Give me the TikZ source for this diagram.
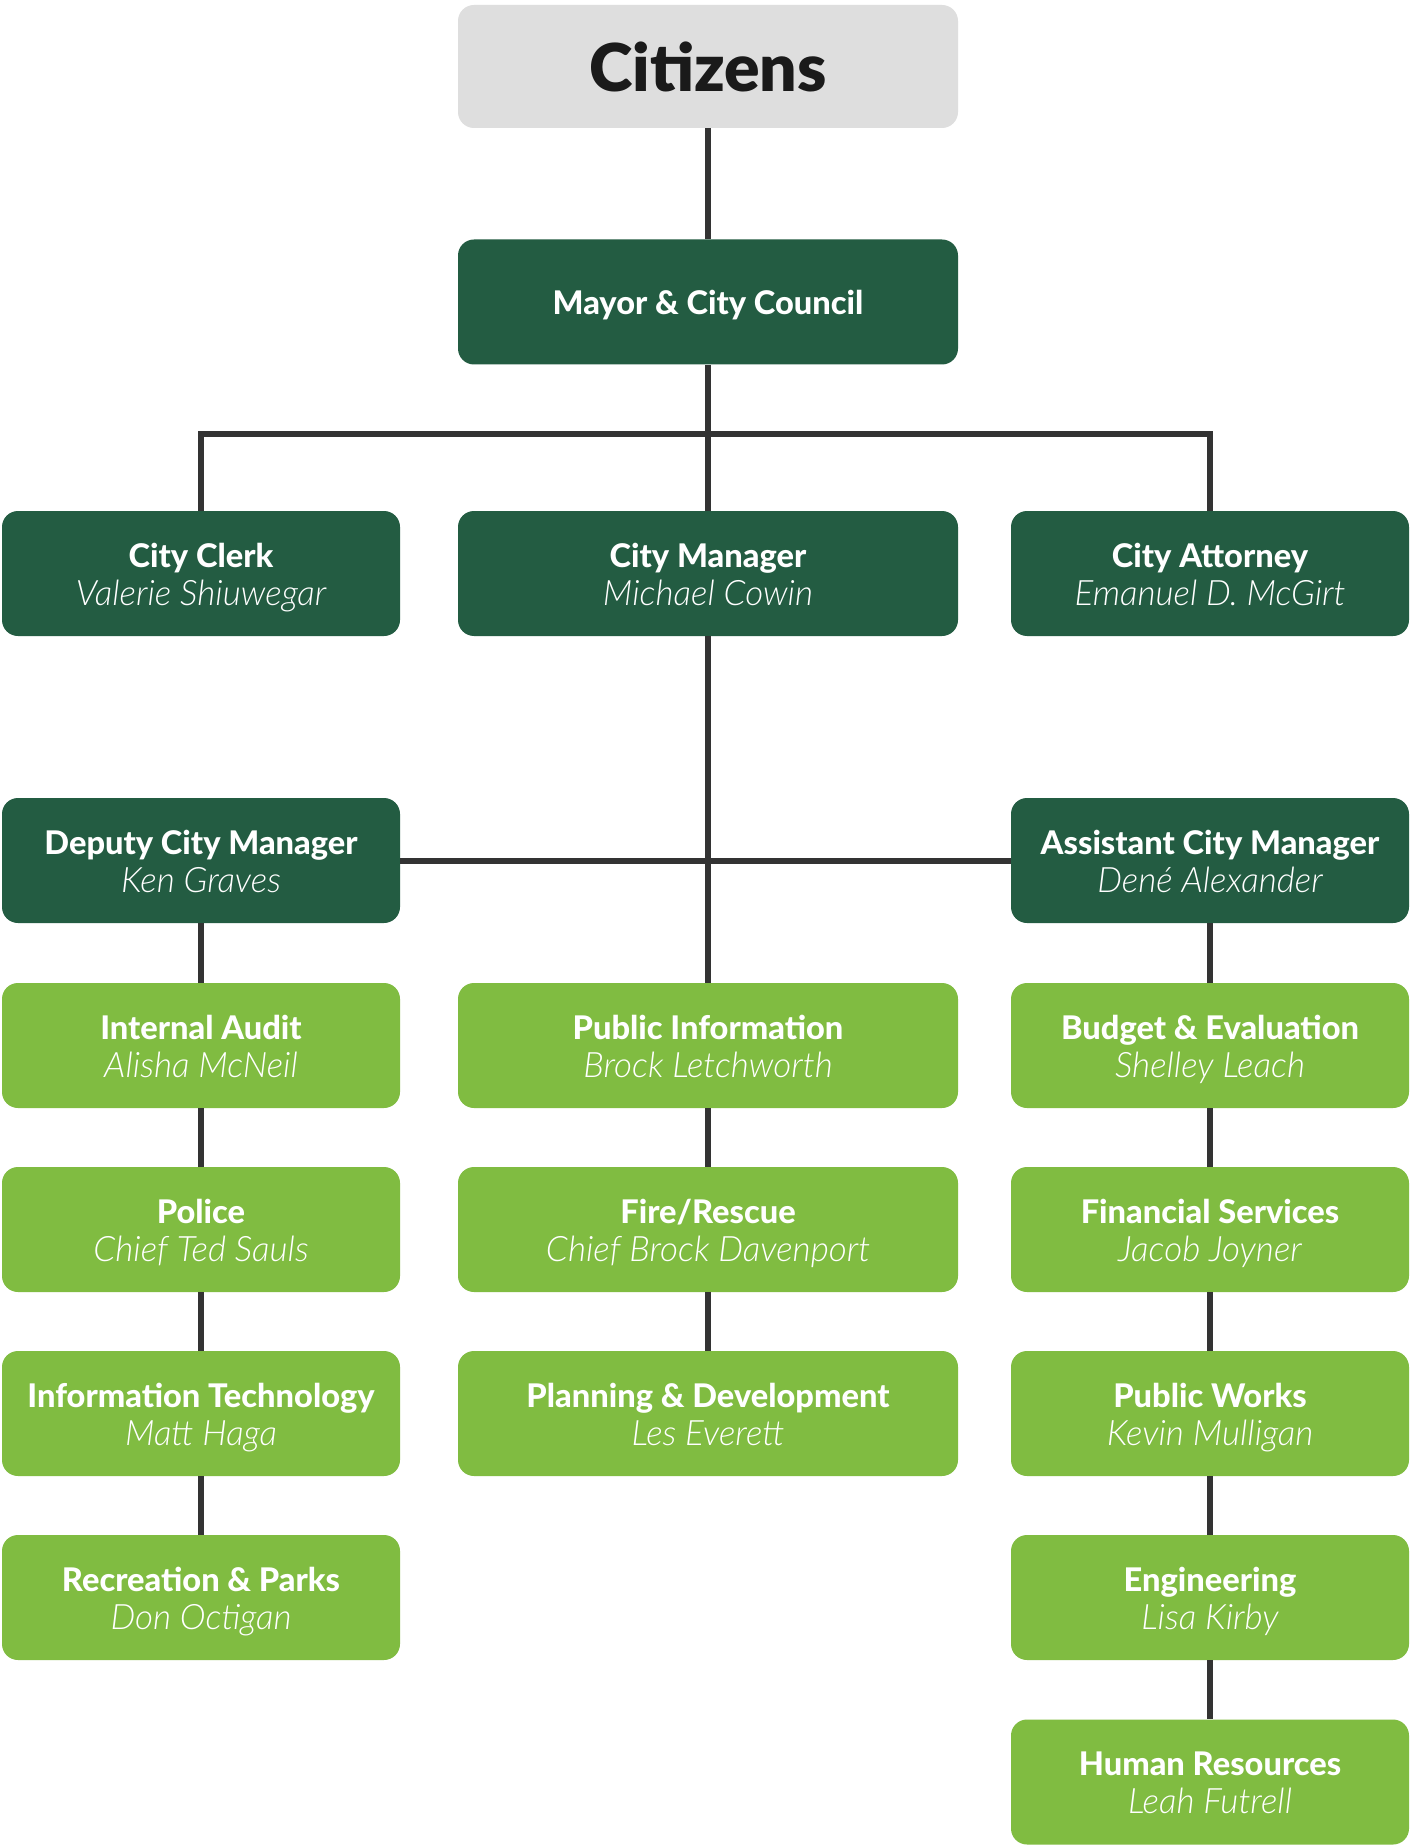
\documentclass[tikz,border=0pt]{standalone}
\usepackage{fontspec}
\setmainfont{Lato}[BoldFont={Lato Heavy}, ItalicFont={Lato Light Italic}]
\newfontfamily\blackfont{Lato Black}
\definecolor{dkgreen}{HTML}{235C42}
\definecolor{ltgreen}{HTML}{80BC41}
\definecolor{citgray}{HTML}{DEDEDE}
\definecolor{linec}{HTML}{333333}
\definecolor{citink}{HTML}{1A1A1A}
\newcommand{\lnstrut}{\rule[-3.2pt]{0pt}{19pt}}
\newcommand{\ttl}[1]{{\fontsize{16.3}{19}\selectfont\bfseries\lnstrut #1}}
\newcommand{\nm}[1]{{\fontsize{17.5}{19}\selectfont\itshape\lnstrut #1}}
\begin{document}
\begin{tikzpicture}[x=0.5pt,y=-0.5pt,
  orgbox/.style={rounded corners=8pt, inner sep=0pt, align=center, text=white,
    minimum height=62.5pt, font=\fontsize{16.3}{19}\selectfont},
  sidebox/.style={orgbox, minimum width=199pt},
  midbox/.style={orgbox, minimum width=250pt},
  dkbox/.style={fill=dkgreen},
  ltbox/.style={fill=ltgreen},
  conn/.style={draw=linec, line width=3pt}]
\useasboundingbox (0,0) rectangle (1409,1845);
\fill[white] (0,0) rectangle (1409,1845);

% top
\node[midbox, fill=citgray, text=citink, minimum height=61.5pt, font=\fontsize{33}{38}\selectfont\blackfont] (cit) at (708,66.5) {Citizens};
\node[midbox, dkbox] (mayor) at (708,302) {\ttl{Mayor \& City Council}};

% row 3
\node[sidebox, dkbox] (clerk) at (201,573.5) {\ttl{City Clerk}\\\nm{Valerie Shiuwegar}};
\node[midbox, dkbox] (manager) at (708,573.5) {\ttl{City Manager}\\\nm{Michael Cowin}};
\node[sidebox, dkbox] (attorney) at (1210,573.5) {\ttl{City Attorney}\\\nm{Emanuel D. McGirt}};

% deputy row
\node[sidebox, dkbox] (deputy) at (201,860.5) {\ttl{Deputy City Manager}\\\nm{Ken Graves}};
\node[sidebox, dkbox] (assistant) at (1210,860.5) {\ttl{Assistant City Manager}\\\nm{Dené Alexander}};

% left column
\node[sidebox, ltbox] (audit) at (201,1045.5) {\ttl{Internal Audit}\\\nm{Alisha McNeil}};
\node[sidebox, ltbox] (police) at (201,1229.5) {\ttl{Police}\\\nm{Chief Ted Sauls}};
\node[sidebox, ltbox] (it) at (201,1413.5) {\ttl{Information Technology}\\\nm{Matt Haga}};
\node[sidebox, ltbox] (rec) at (201,1597.5) {\ttl{Recreation \& Parks}\\\nm{Don Octigan}};

% middle column
\node[midbox, ltbox] (pubinfo) at (708,1045.5) {\ttl{Public Information}\\\nm{Brock Letchworth}};
\node[midbox, ltbox] (fire) at (708,1229.5) {\ttl{Fire/Rescue}\\\nm{Chief Brock Davenport}};
\node[midbox, ltbox] (plan) at (708,1413.5) {\ttl{Planning \& Development}\\\nm{Les Everett}};

% right column
\node[sidebox, ltbox] (budget) at (1210,1045.5) {\ttl{Budget \& Evaluation}\\\nm{Shelley Leach}};
\node[sidebox, ltbox] (finance) at (1210,1229.5) {\ttl{Financial Services}\\\nm{Jacob Joyner}};
\node[sidebox, ltbox] (works) at (1210,1413.5) {\ttl{Public Works}\\\nm{Kevin Mulligan}};
\node[sidebox, ltbox] (eng) at (1210,1597.5) {\ttl{Engineering}\\\nm{Lisa Kirby}};
\node[sidebox, ltbox] (hr) at (1210,1782) {\ttl{Human Resources}\\\nm{Leah Futrell}};

% connectors
\coordinate (bus) at (708,434);
\draw[conn] (cit) -- (mayor);
\draw[conn] (mayor) -- (manager);
\draw[conn] (clerk.north) |- (bus) -| (attorney.north);
\draw[conn] (manager) -- (pubinfo);
\draw[conn] (deputy) -- (assistant);
\draw[conn] (deputy) -- (audit);
\draw[conn] (audit) -- (police);
\draw[conn] (police) -- (it);
\draw[conn] (it) -- (rec);
\draw[conn] (pubinfo) -- (fire);
\draw[conn] (fire) -- (plan);
\draw[conn] (assistant) -- (budget);
\draw[conn] (budget) -- (finance);
\draw[conn] (finance) -- (works);
\draw[conn] (works) -- (eng);
\draw[conn] (eng) -- (hr);
\end{tikzpicture}
\end{document}
